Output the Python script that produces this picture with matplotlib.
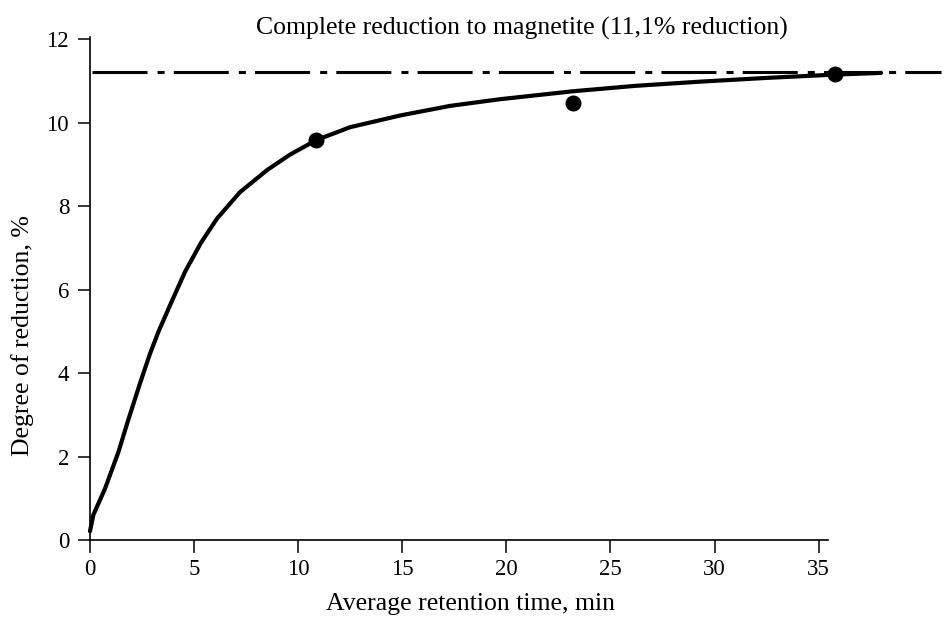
import matplotlib
matplotlib.use("Agg")
import matplotlib.pyplot as plt

# data
curve_x = [0.0, 0.16, 0.72, 1.36, 1.84, 2.40, 2.88, 3.28, 3.93, 4.57, 5.33, 6.1, 7.2,
           8.5, 9.6, 10.87, 12.5, 14.9, 17.3, 19.7, 23.2, 26.2, 29.3, 32.5, 35.8, 38.0]
curve_y = [0.21, 0.6, 1.23, 2.10, 2.88, 3.75, 4.46, 4.98, 5.72, 6.43, 7.12, 7.70, 8.33,
           8.86, 9.23, 9.58, 9.89, 10.17, 10.4, 10.56, 10.75, 10.88, 10.98, 11.07, 11.15, 11.19]
pts_x = [10.87, 23.2, 35.8]
pts_y = [9.58, 10.48, 11.17]
magnetite_x = [0.1, 40.9]
magnetite_y = [11.2, 11.2]
xticks = [0, 5, 10, 15, 20, 25, 30, 35]
yticks = [0, 2, 4, 6, 8, 10, 12]

plt.rcParams['font.family'] = ['Liberation Serif', 'DejaVu Serif']

fig = plt.figure(figsize=(9.46, 6.24), dpi=100)
ax = fig.add_axes([90/946, 1-540/624, 738/946, 503/624])
ax.set_xlim(0, 35.45)
ax.set_ylim(0, 12.05)

ax.plot(curve_x, curve_y, color='black', lw=3.0, clip_on=False,
        solid_capstyle='round', solid_joinstyle='round')
ax.plot(magnetite_x, magnetite_y, color='black', lw=2.2, clip_on=False,
        dashes=(18, 3.3, 2.3, 3), dash_capstyle='butt')
ax.plot(pts_x, pts_y, 'o', color='black', ms=10.5, clip_on=False)

for s in ['top', 'right']:
    ax.spines[s].set_visible(False)
for s in ['left', 'bottom']:
    ax.spines[s].set_linewidth(1.2)

ax.set_xticks(xticks)
ax.set_yticks(yticks)
ax.tick_params(axis='x', direction='out', length=9, width=1.1, pad=5, labelsize=16.5)
ax.tick_params(axis='y', direction='out', length=9, width=1.1, pad=6, labelsize=16.5)

fig.text(470/946, 1-604/624, 'Average retention time, min',
         ha='center', va='center', fontsize=18.5)
fig.text(23/946, 1-336/624, 'Degree of reduction, %', rotation=90,
         ha='center', va='center', fontsize=18.5)
fig.text(522/946, 1-28/624, 'Complete reduction to magnetite (11,1% reduction)',
         ha='center', va='center', fontsize=18.5)

fig.savefig('out.png', dpi=100, facecolor='white')
